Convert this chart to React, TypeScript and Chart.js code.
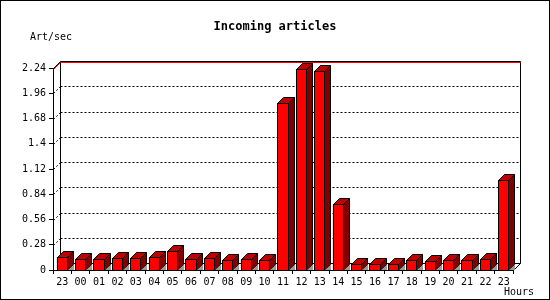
import React, { useEffect, useRef } from "react";
import { Chart, registerables } from "chart.js";

Chart.register(...registerables);

const hours = ["23", "00", "01", "02", "03", "04", "05", "06", "07", "08", "09", "10", "11", "12", "13", "14", "15", "16", "17", "18", "19", "20", "21", "22", "23"];
const articlesPerSec = [0.147, 0.118, 0.118, 0.129, 0.129, 0.14, 0.21, 0.118, 0.129, 0.107, 0.118, 0.107, 1.85, 2.225, 2.21, 0.727, 0.063, 0.063, 0.063, 0.107, 0.096, 0.107, 0.107, 0.118, 1.0];
const yTickValues = [0, 0.28, 0.56, 0.84, 1.12, 1.4, 1.68, 1.96, 2.24];
const yMax = 2.24;

const titleText = "Incoming articles";
const yAxisTitle = "Art/sec";
const xAxisTitle = "Hours";

const MONO = '"DejaVu Sans Mono", monospace';
const WALL = 7;
const DEPTH = 6;

const threeD = {
  id: "threeD",
  beforeDatasetsDraw(chart: any) {
    const { ctx, chartArea: a, scales } = chart;
    const y = scales.y;
    const L = Math.round(a.left);
    const R = Math.round(a.right);
    const T = Math.round(y.getPixelForValue(yMax));
    const B = Math.round(y.getPixelForValue(0));
    ctx.save();
    ctx.lineWidth = 1;
    ctx.strokeStyle = "#000";
    // dotted grid on back wall
    ctx.setLineDash([2, 2]);
    for (const t of y.ticks) {
      if (t.value <= 0 || t.value >= yMax) continue;
      const py = Math.round(y.getPixelForValue(t.value)) + 0.5;
      ctx.beginPath();
      ctx.moveTo(L + WALL + 0.5, py - WALL);
      ctx.lineTo(R + WALL, py - WALL);
      ctx.stroke();
      ctx.beginPath();
      ctx.moveTo(L + 0.5, py);
      ctx.lineTo(L + WALL + 0.5, py - WALL);
      ctx.stroke();
    }
    ctx.setLineDash([]);
    // wall outline
    ctx.beginPath();
    ctx.moveTo(L + 0.5, T + 0.5);
    ctx.lineTo(L + WALL + 0.5, T - WALL + 0.5);
    ctx.lineTo(R + WALL + 0.5, T - WALL + 0.5);
    ctx.lineTo(R + WALL + 0.5, B - WALL + 0.5);
    ctx.lineTo(R + 0.5, B + 0.5);
    ctx.moveTo(L + WALL + 0.5, T - WALL + 0.5);
    ctx.lineTo(L + WALL + 0.5, B - WALL + 0.5);
    ctx.lineTo(R + WALL + 0.5, B - WALL + 0.5);
    ctx.stroke();
    // red max line
    const mx = Math.max(...articlesPerSec);
    const my = Math.round(y.getPixelForValue(mx)) + 0.5;
    ctx.strokeStyle = "#ff0000";
    ctx.beginPath();
    ctx.moveTo(L + 0.5, my);
    ctx.lineTo(L + WALL + 0.5, my - WALL);
    ctx.lineTo(R + WALL + 0.5, my - WALL);
    ctx.stroke();
    ctx.restore();
  },
  afterDatasetsDraw(chart: any) {
    const { ctx } = chart;
    const meta = chart.getDatasetMeta(0);
    ctx.save();
    ctx.lineWidth = 1;
    ctx.strokeStyle = "#000";
    meta.data.forEach((bar: any) => {
      const { x, y: top, base, width } = bar.getProps(["x", "y", "base", "width"], true);
      const l = Math.round(x - width / 2) + 0.5;
      const r = Math.round(x + width / 2) - 0.5;
      const t = Math.round(top) + 0.5;
      const b = Math.round(base) + 0.5;
      const d = DEPTH;
      // front
      ctx.fillStyle = "#ff0000";
      ctx.fillRect(l, t, r - l, b - t);
      ctx.strokeRect(l, t, r - l, b - t);
      // top
      ctx.fillStyle = "#c00000";
      ctx.beginPath();
      ctx.moveTo(l, t);
      ctx.lineTo(l + d, t - d);
      ctx.lineTo(r + d, t - d);
      ctx.lineTo(r, t);
      ctx.closePath();
      ctx.fill();
      ctx.stroke();
      // side
      ctx.fillStyle = "#800000";
      ctx.beginPath();
      ctx.moveTo(r, t);
      ctx.lineTo(r + d, t - d);
      ctx.lineTo(r + d, b - d);
      ctx.lineTo(r, b);
      ctx.closePath();
      ctx.fill();
      ctx.stroke();
      // shadow
      ctx.fillStyle = "#999999";
      ctx.beginPath();
      ctx.moveTo(r + 0.5, b - 0.5);
      ctx.lineTo(r + d + 0.5, b - d);
      ctx.lineTo(r + d + 0.5, b - 0.5);
      ctx.closePath();
      ctx.fill();
    });
    ctx.restore();
  },
  afterDraw(chart: any) {
    const { ctx, width, height } = chart;
    ctx.save();
    ctx.fillStyle = "#000";
    ctx.textBaseline = "middle";
    ctx.font = `bold 12px ${MONO}`;
    ctx.textAlign = "center";
    ctx.fillText(titleText, 275, 27);
    ctx.font = `10px ${MONO}`;
    ctx.textAlign = "left";
    ctx.fillText(yAxisTitle, 30, 37);
    ctx.fillText(xAxisTitle, 504, 292);
    ctx.strokeStyle = "#000";
    ctx.lineWidth = 1;
    ctx.strokeRect(0.5, 0.5, width - 1, height - 1);
    ctx.restore();
  },
};

export default function App() {
  const ref = useRef<HTMLCanvasElement>(null);
  useEffect(() => {
    document.body.style.margin = "0";
    const canvas = ref.current!;
    const chart = new Chart(canvas, {
      type: "bar",
      data: {
        labels: hours,
        datasets: [
          {
            data: articlesPerSec,
            backgroundColor: "#ff0000",
            borderColor: "#000",
            borderWidth: 1,
            barPercentage: 0.6,
            categoryPercentage: 1,
          },
        ],
      },
      options: {
        responsive: false,
        animation: false,
        events: [],
        layout: { padding: { top: 68, right: 37, left: 0, bottom: 0 } },
        plugins: {
          legend: { display: false },
          title: { display: false },
          tooltip: { enabled: false },
        },
        scales: {
          x: {
            offset: true,
            grid: { display: true, drawOnChartArea: false, drawTicks: true, tickLength: 4, color: "#000", offset: true },
            border: { display: true, color: "#000" },
            ticks: { color: "#000", font: { family: MONO, size: 10 }, padding: 2, maxRotation: 0, autoSkip: false },
            afterFit: (s: any) => { s.height = 30; },
          },
          y: {
            min: 0,
            max: yMax,
            grid: { display: true, drawOnChartArea: false, drawTicks: true, tickLength: 4, color: "#000" },
            border: { display: true, color: "#000" },
            ticks: {
              color: "#000",
              font: { family: MONO, size: 10 },
              padding: 3,
              callback: (v: any) => String(+Number(v).toFixed(2)),
            },
            afterBuildTicks: (s: any) => { s.ticks = yTickValues.map((v) => ({ value: v })); },
            afterFit: (s: any) => { s.width = 53; },
          },
        },
      },
      plugins: [threeD],
    });
    return () => chart.destroy();
  }, []);
  return <canvas ref={ref} width={550} height={300} style={{ display: "block" }} />;
}
